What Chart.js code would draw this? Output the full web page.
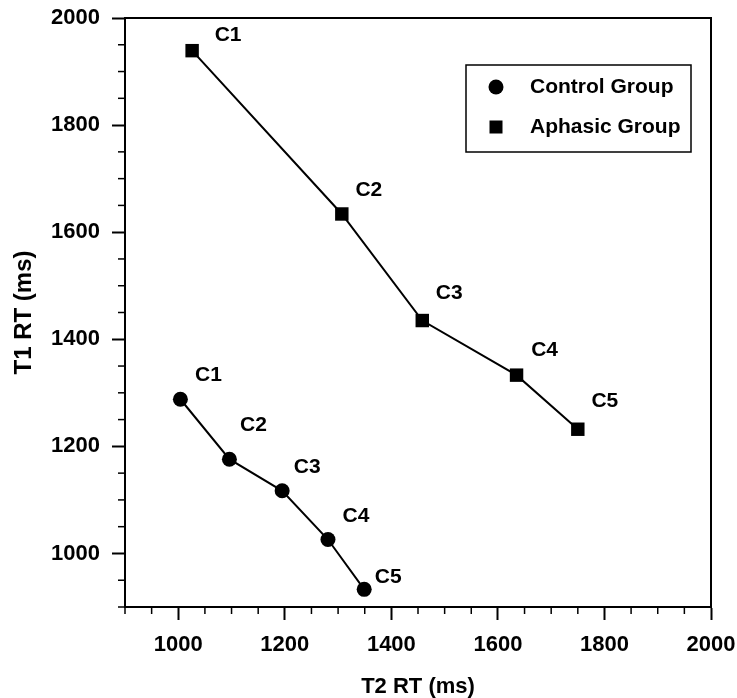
<!DOCTYPE html>
<html>
<head>
<meta charset="utf-8">
<script src="https://cdn.jsdelivr.net/npm/chart.js@4.4.0/dist/chart.umd.min.js"></script>
<style>
    html, body { margin: 0; padding: 0; background: #fff; }
</style>
</head>
<body>
<canvas id="chart" width="737" height="698"></canvas>
<script>
// conditions C1..C5, T2 RT on x, T1 RT on y (ms)
const conditions = ['C1', 'C2', 'C3', 'C4', 'C5'];
const controlT2 = [1004, 1096, 1195, 1281, 1349];
const controlT1 = [1288, 1176, 1117, 1026, 933];
const aphasicT2 = [1026, 1307, 1458, 1635, 1750];
const aphasicT1 = [1939, 1634, 1435, 1333, 1232];
const seriesNames = ['Control Group', 'Aphasic Group'];
const axisMin = 900;
const axisMax = 2000;

const FONT = '"Liberation Sans", Arial, Helvetica, sans-serif';

// label placement relative to each marker (dx, dy)
const labelNudge = [
    [[28, -24], [24, -34], [25, -24], [28, -23], [24, -12]],
    [[36, -15], [27, -24], [27, -27], [28, -25], [27, -28]],
];

function toPoints(xs, ys) {
    return xs.map(function (x, i) { return { x: x, y: ys[i] }; });
}

const isMajor = function (v) { return v % 200 === 0; };

const framePlugin = {
    id: 'frame',
    afterDraw(chart) {
        const { ctx, chartArea: a } = chart;
        ctx.save();
        ctx.strokeStyle = '#000';
        ctx.lineWidth = 2;
        ctx.beginPath();
        ctx.moveTo(a.left, a.top);
        ctx.lineTo(a.right, a.top);
        ctx.lineTo(a.right, a.bottom);
        ctx.stroke();

        // minor ticks
        ctx.lineWidth = 1.5;
        const xs = chart.scales.x;
        xs.ticks.forEach(function (t) {
            if (isMajor(t.value)) return;
            const px = xs.getPixelForValue(t.value);
            ctx.beginPath();
            ctx.moveTo(px, a.bottom);
            ctx.lineTo(px, a.bottom + 7);
            ctx.stroke();
        });
        const ys = chart.scales.y;
        ys.ticks.forEach(function (t) {
            if (isMajor(t.value)) return;
            const py = ys.getPixelForValue(t.value);
            ctx.beginPath();
            ctx.moveTo(a.left, py);
            ctx.lineTo(a.left - 7, py);
            ctx.stroke();
        });
        ctx.restore();
    },
};

const pointLabelPlugin = {
    id: 'pointLabels',
    afterDatasetsDraw(chart) {
        const ctx = chart.ctx;
        ctx.save();
        ctx.fillStyle = '#000';
        ctx.font = 'bold 21px ' + FONT;
        ctx.textAlign = 'center';
        ctx.textBaseline = 'middle';
        chart.data.datasets.forEach(function (ds, di) {
            chart.getDatasetMeta(di).data.forEach(function (el, i) {
                const n = labelNudge[di][i];
                ctx.fillText(conditions[i], el.x + n[0], el.y + n[1]);
            });
        });
        ctx.restore();
    },
};

const legendPlugin = {
    id: 'boxLegend',
    afterDraw(chart) {
        const ctx = chart.ctx;
        ctx.save();
        ctx.strokeStyle = '#000';
        ctx.lineWidth = 1.5;
        ctx.strokeRect(466, 65, 225, 87);
        ctx.fillStyle = '#000';
        ctx.beginPath();
        ctx.arc(496, 87, 7.5, 0, Math.PI * 2);
        ctx.fill();
        ctx.fillRect(489.5, 120.5, 13, 13);
        ctx.font = 'bold 21px ' + FONT;
        ctx.textAlign = 'left';
        ctx.textBaseline = 'middle';
        ctx.fillText(seriesNames[0], 530, 87);
        ctx.fillText(seriesNames[1], 530, 127);
        ctx.restore();
    },
};

function axis(position, titleText, titleSize, titlePadding, fit) {
    return {
        type: 'linear',
        position: position,
        min: axisMin,
        max: axisMax,
        ticks: {
            stepSize: 50,
            autoSkip: false,
            maxRotation: 0,
            padding: 12,
            color: '#000',
            font: { family: FONT, size: 22, weight: 'bold' },
            callback: function (v) { return isMajor(v) ? String(v) : ''; },
        },
        grid: {
            drawOnChartArea: false,
            drawTicks: true,
            tickLength: 13,
            tickWidth: 2,
            tickColor: function (c) {
                return c.tick && isMajor(c.tick.value) ? '#000' : 'rgba(0,0,0,0)';
            },
        },
        border: { display: true, color: '#000', width: 2 },
        title: {
            display: true,
            text: titleText,
            color: '#000',
            font: { family: FONT, size: titleSize, weight: 'bold', lineHeight: 1 },
            padding: titlePadding,
        },
        afterFit: fit,
    };
}

new Chart(document.getElementById('chart'), {
    type: 'scatter',
    data: {
        datasets: [
            {
                label: seriesNames[0],
                data: toPoints(controlT2, controlT1),
                showLine: true,
                borderColor: '#000',
                borderWidth: 2,
                backgroundColor: '#000',
                pointStyle: 'circle',
                pointRadius: 7.5,
                pointBorderWidth: 0,
            },
            {
                label: seriesNames[1],
                data: toPoints(aphasicT2, aphasicT1),
                showLine: true,
                borderColor: '#000',
                borderWidth: 2,
                backgroundColor: '#000',
                pointStyle: 'rect',
                pointRadius: 9.5,
                pointBorderWidth: 0,
            },
        ],
    },
    options: {
        responsive: false,
        animation: false,
        layout: { padding: { top: 18, right: 26, left: 0, bottom: 0 } },
        plugins: {
            legend: { display: false },
            tooltip: { enabled: false },
        },
        scales: {
            x: axis('bottom', 'T2 RT (ms)', 22, { top: 0, bottom: 0 }, function (s) {
                s.height = 91;
                s.paddingLeft = 0;
                s.paddingRight = 0;
            }),
            y: axis('left', 'T1 RT (ms)', 24, { top: 12, bottom: 0 }, function (s) {
                s.width = 125;
                s.paddingTop = 0;
                s.paddingBottom = 0;
            }),
        },
    },
    plugins: [framePlugin, pointLabelPlugin, legendPlugin],
});
</script>
</body>
</html>
